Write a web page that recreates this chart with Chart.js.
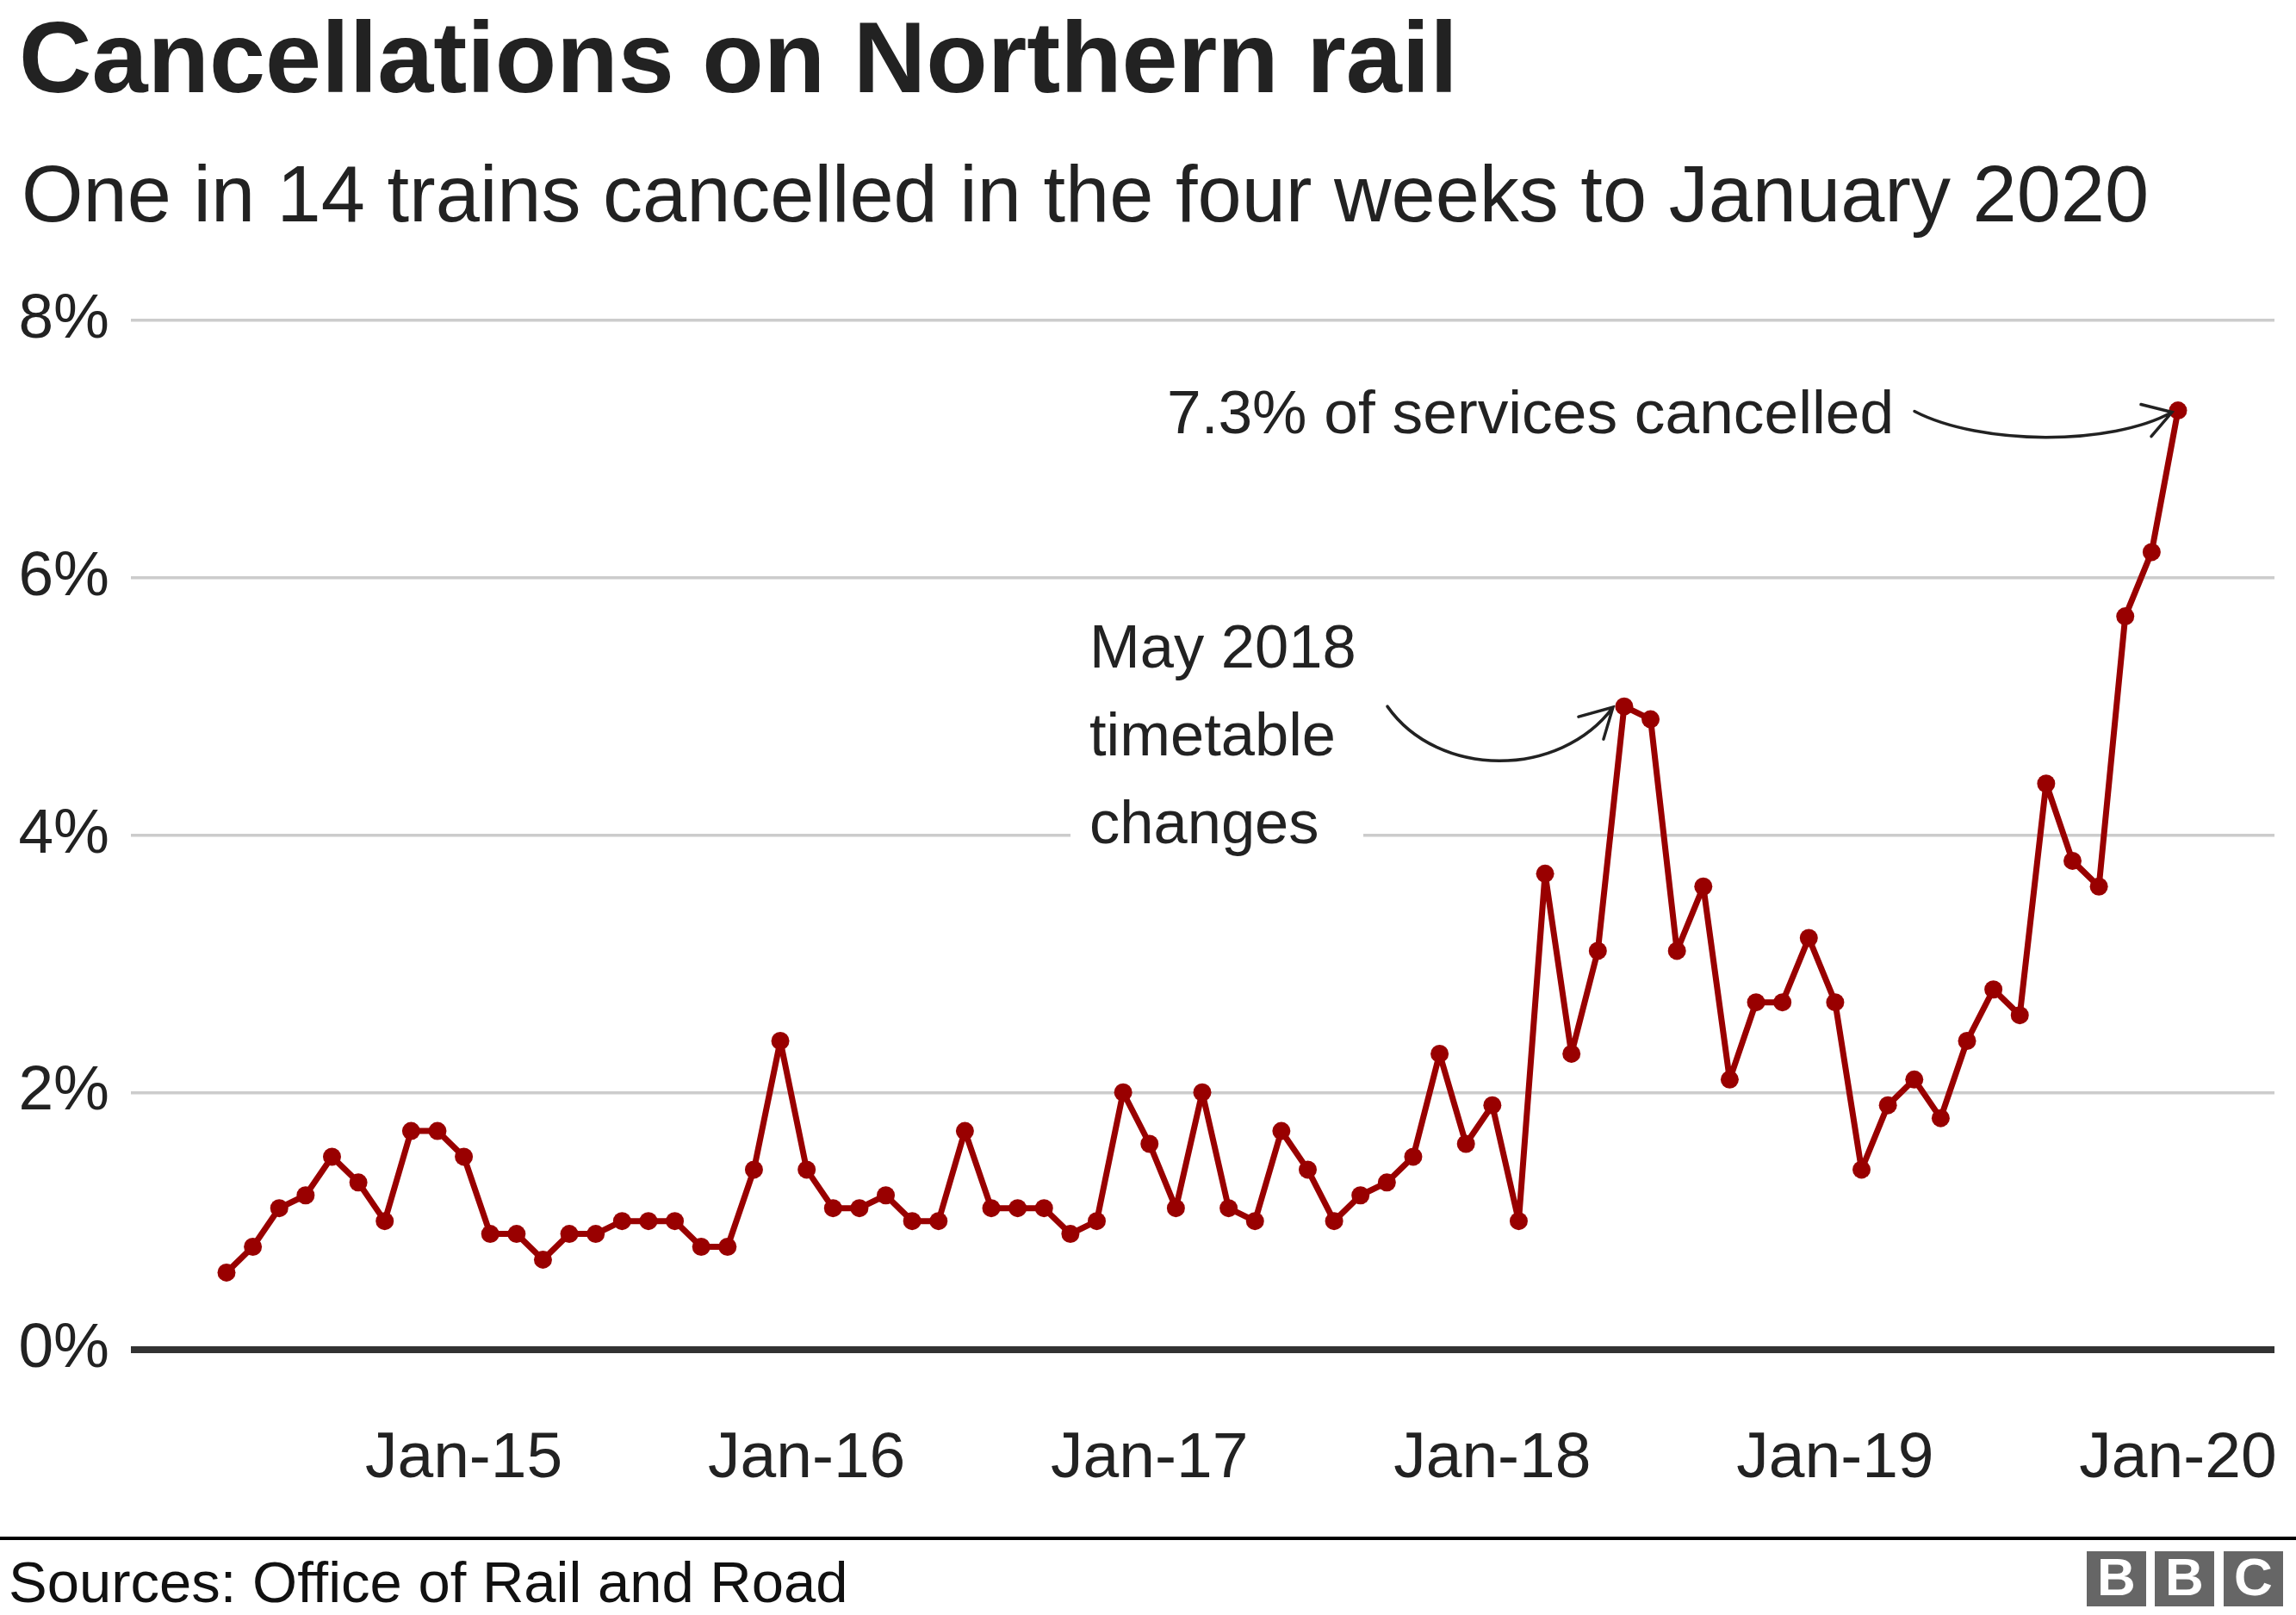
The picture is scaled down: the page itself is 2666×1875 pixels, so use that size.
<!DOCTYPE html>
<html><head><meta charset="utf-8">
<script src="https://cdn.jsdelivr.net/npm/chart.js@4.4.1/dist/chart.umd.min.js"></script>
<style>html,body{margin:0;padding:0;background:#fff;}canvas{display:block;}</style>
</head><body>
<canvas id="c" width="2666" height="1875"></canvas>
<script>
// Four-weekly rail periods (P10 of each year ends in early January)
const periods = [
  '2014-15 P01','2014-15 P02','2014-15 P03','2014-15 P04','2014-15 P05','2014-15 P06','2014-15 P07','2014-15 P08','2014-15 P09','2014-15 P10','2014-15 P11','2014-15 P12','2014-15 P13',
  '2015-16 P01','2015-16 P02','2015-16 P03','2015-16 P04','2015-16 P05','2015-16 P06','2015-16 P07','2015-16 P08','2015-16 P09','2015-16 P10','2015-16 P11','2015-16 P12','2015-16 P13',
  '2016-17 P01','2016-17 P02','2016-17 P03','2016-17 P04','2016-17 P05','2016-17 P06','2016-17 P07','2016-17 P08','2016-17 P09','2016-17 P10','2016-17 P11','2016-17 P12','2016-17 P13',
  '2017-18 P01','2017-18 P02','2017-18 P03','2017-18 P04','2017-18 P05','2017-18 P06','2017-18 P07','2017-18 P08','2017-18 P09','2017-18 P10','2017-18 P11','2017-18 P12','2017-18 P13',
  '2018-19 P01','2018-19 P02','2018-19 P03','2018-19 P04','2018-19 P05','2018-19 P06','2018-19 P07','2018-19 P08','2018-19 P09','2018-19 P10','2018-19 P11','2018-19 P12','2018-19 P13',
  '2019-20 P01','2019-20 P02','2019-20 P03','2019-20 P04','2019-20 P05','2019-20 P06','2019-20 P07','2019-20 P08','2019-20 P09','2019-20 P10'
];
// % of services cancelled
const cancelledPct = [
  0.6,0.8,1.1,1.2,1.5,1.3,1.0,1.7,1.7,1.5,0.9,0.9,0.7,
  0.9,0.9,1.0,1.0,1.0,0.8,0.8,1.4,2.4,1.4,1.1,1.1,1.2,
  1.0,1.0,1.7,1.1,1.1,1.1,0.9,1.0,2.0,1.6,1.1,2.0,1.1,
  1.0,1.7,1.4,1.0,1.2,1.3,1.5,2.3,1.6,1.9,1.0,3.7,2.3,
  3.1,5.0,4.9,3.1,3.6,2.1,2.7,2.7,3.2,2.7,1.4,1.9,2.1,
  1.8,2.4,2.8,2.6,4.4,3.8,3.6,5.7,6.2,7.3
];
const tickPeriods = ['2014-15 P10','2015-16 P10','2016-17 P10','2017-18 P10','2018-19 P10','2019-20 P10'];
const tickLabels = ['Jan-15','Jan-16','Jan-17','Jan-18','Jan-19','Jan-20'];
const yTicks = [0,2,4,6,8];

const titleText = 'Cancellations on Northern rail';
const subtitleText = 'One in 14 trains cancelled in the four weeks to January 2020';
const sourceText = 'Sources: Office of Rail and Road';
const noteMay = ['May 2018','timetable','changes'];
const notePeriodMay = '2018-19 P02';
const noteLatest = '7.3% of services cancelled';
const notePeriodLatest = '2019-20 P10';

const FONT = '"Liberation Sans", Arial, Helvetica, sans-serif';
const RED = '#990000';

function arrow(ctx, p0, c1, c2, tip, a1, a2) {
  ctx.beginPath();
  ctx.moveTo(p0[0], p0[1]);
  ctx.bezierCurveTo(c1[0], c1[1], c2[0], c2[1], tip[0], tip[1]);
  ctx.moveTo(tip[0] + a1[0], tip[1] + a1[1]);
  ctx.lineTo(tip[0], tip[1]);
  ctx.lineTo(tip[0] + a2[0], tip[1] + a2[1]);
  ctx.stroke();
}

const decor = {
  id: 'decor',
  afterDraw(chart) {
    const ctx = chart.ctx;
    const xs = chart.scales.x, ys = chart.scales.y;
    ctx.save();
    ctx.textAlign = 'left';
    ctx.textBaseline = 'alphabetic';
    ctx.fillStyle = '#222';
    ctx.font = 'bold 117px ' + FONT;
    ctx.fillText(titleText, 22, 107);
    ctx.font = '92px ' + FONT;
    ctx.fillText(subtitleText, 25, 257);

    // May 2018 note
    const iM = periods.indexOf(notePeriodMay);
    const mx = xs.getPixelForValue(iM), my = ys.getPixelForValue(cancelledPct[iM]);
    ctx.fillStyle = '#fff';
    ctx.fillRect(1243, 700, 340, 300);
    ctx.fillStyle = '#222';
    ctx.font = '70.5px ' + FONT;
    noteMay.forEach((t, k) => ctx.fillText(t, 1265, 775 + k * 102));
    ctx.strokeStyle = '#222';
    ctx.lineWidth = 3.5;
    ctx.lineCap = 'round';
    const tM = [mx - 13, my + 1];
    arrow(ctx, [mx - 275, my], [mx - 216, my + 84], [mx - 75, my + 84], tM, [-40, 11], [-11, 37]);

    // latest note
    const iL = periods.indexOf(notePeriodLatest);
    const lx = xs.getPixelForValue(iL), ly = ys.getPixelForValue(cancelledPct[iL]);
    ctx.font = '71.3px ' + FONT;
    ctx.fillText(noteLatest, 1355, 503);
    const tL = [lx - 7, ly + 2];
    arrow(ctx, [lx - 306, ly + 1], [lx - 229, ly + 41], [lx - 77, ly + 41], tL, [-36, -9], [-24, 28]);

    // footer
    ctx.fillStyle = '#000';
    ctx.fillRect(0, 1784, 2666, 4);
    ctx.fillStyle = '#111';
    ctx.font = '67px ' + FONT;
    ctx.fillText(sourceText, 10, 1860);
    // BBC blocks
    const bx = [2423, 2502, 2582];
    const letters = ['B', 'B', 'C'];
    ctx.font = 'bold 62px ' + FONT;
    ctx.textAlign = 'center';
    ctx.textBaseline = 'middle';
    bx.forEach((x, k) => {
      ctx.fillStyle = '#666';
      ctx.fillRect(x, 1801, 69, 64);
      ctx.fillStyle = '#fff';
      ctx.fillText(letters[k], x + 34.5, 1835);
    });
    ctx.restore();
  }
};

new Chart(document.getElementById('c'), {
  type: 'line',
  data: {
    datasets: [{
      data: periods.map((p, i) => ({ x: i, y: cancelledPct[i] })),
      borderColor: RED,
      backgroundColor: RED,
      borderWidth: 7,
      borderJoinStyle: 'round',
      borderCapStyle: 'round',
      pointRadius: 10.5,
      pointBackgroundColor: RED,
      pointBorderWidth: 0,
      tension: 0,
      clip: false
    }]
  },
  options: {
    responsive: false,
    devicePixelRatio: 1,
    animation: false,
    layout: { padding: { top: 372, right: 25, bottom: 0, left: 0 } },
    plugins: { legend: { display: false }, tooltip: { enabled: false }, title: { display: false } },
    scales: {
      x: {
        type: 'linear',
        min: -3.625,
        max: 77.658,
        grid: { display: false, drawTicks: false },
        border: { display: false },
        afterBuildTicks: (s) => { s.ticks = tickPeriods.map(p => ({ value: periods.indexOf(p) })); },
        afterFit: (s) => { s.height = 308; s.paddingLeft = 0; s.paddingRight = 0; },
        ticks: {
          padding: 82,
          maxRotation: 0,
          autoSkip: false,
          color: '#222',
          font: { family: FONT, size: 75 },
          callback: (v) => tickLabels[tickPeriods.indexOf(periods[v])]
        }
      },
      y: {
        min: 0,
        max: 8,
        grid: {
          drawTicks: false,
          color: (c) => c.tick && c.tick.value === 0 ? '#333' : '#cccccc',
          lineWidth: (c) => c.tick && c.tick.value === 0 ? 8 : 3.5
        },
        border: { display: false },
        afterBuildTicks: (s) => { s.ticks = yTicks.map(v => ({ value: v })); },
        afterFit: (s) => { s.width = 152; s.paddingTop = 0; s.paddingBottom = 0; },
        ticks: {
          padding: 25,
          color: '#222',
          font: { family: FONT, size: 73 },
          callback: (v) => v + '%'
        }
      }
    }
  },
  plugins: [decor]
});
</script>
</body></html>
